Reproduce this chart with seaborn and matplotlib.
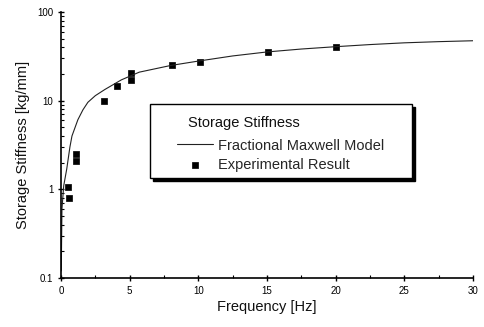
import matplotlib
matplotlib.use("Agg")
import matplotlib.pyplot as plt
import seaborn as sns
import pandas as pd
from matplotlib.patches import Rectangle
from matplotlib.ticker import FixedLocator, FixedFormatter, LogLocator, MultipleLocator, NullFormatter

# Model curve
model_freq = [0.02, 0.07, 0.2, 0.42, 0.65, 0.8, 1.23, 1.6, 1.96, 2.5, 3.2, 4.4, 5.7, 8, 10, 12.5, 15, 17.5, 20, 22.5, 25, 27.5, 30]
model_stiff = [0.12, 0.6, 1.1, 1.7, 3.0, 4.0, 6.1, 7.9, 9.6, 11.4, 13.4, 17.2, 21.0, 25.0, 28.0, 32.0, 35.5, 38.3, 40.7, 43.0, 45.0, 46.4, 47.5]

# Experimental results
exp_freq = [0.5, 0.6, 1.1, 1.1, 3.1, 4.1, 5.1, 5.1, 8.1, 10.1, 15.1, 20.0]
exp_stiff = [1.05, 0.8, 2.5, 2.1, 10.0, 14.8, 20.5, 17.2, 25.0, 27.5, 35.5, 40.8]

y_ticks = [0.1, 1, 10, 100]
y_ticklabels = ["0.1", "1", "10", "100"]
x_ticks = [0, 5, 10, 15, 20, 25, 30]
legend_title = "Storage Stiffness"

sns.set_theme(style="ticks")
plt.rcParams["font.family"] = ["Liberation Sans", "DejaVu Sans"]

fig = plt.figure(figsize=(4.84, 3.27), dpi=100)
ax = fig.add_axes([0.126, 0.15, 0.851, 0.813])

model_df = pd.DataFrame({"f": model_freq, "s": model_stiff})
exp_df = pd.DataFrame({"f": exp_freq, "s": exp_stiff})

sns.lineplot(data=model_df, x="f", y="s", ax=ax, color="#222222", linewidth=0.8,
             label="Fractional Maxwell Model")
sns.scatterplot(data=exp_df, x="f", y="s", ax=ax, color="black", marker="s", s=22,
                edgecolor="black", linewidth=0.5, label="Experimental Result")

ax.set_yscale("log")
ax.set_xlim(0, 30)
ax.set_ylim(0.1, 100)
ax.yaxis.set_major_locator(FixedLocator(y_ticks))
ax.yaxis.set_major_formatter(FixedFormatter(y_ticklabels))
ax.yaxis.set_minor_locator(LogLocator(base=10, subs=range(2, 10)))
ax.yaxis.set_minor_formatter(NullFormatter())
ax.xaxis.set_major_locator(FixedLocator(x_ticks))
ax.xaxis.set_minor_locator(MultipleLocator(2.5))

for s in ["top", "right"]:
    ax.spines[s].set_visible(False)
for s in ["left", "bottom"]:
    ax.spines[s].set_linewidth(1.2)
    ax.spines[s].set_color("black")

ax.tick_params(axis="both", which="major", direction="inout", length=5, width=1,
               labelsize=7, colors="black", pad=3)
ax.tick_params(axis="both", which="minor", direction="in", length=2.5, width=0.8, colors="black")

ax.set_xlabel("Frequency [Hz]", fontsize=10.5, color="#111111", labelpad=3)
ax.set_ylabel("Storage Stiffness [kg/mm]", fontsize=10.5, color="#111111", labelpad=5)

# Legend frame with drop shadow
bx0, by0, bw, bh = 0.216, 0.376, 0.636, 0.278
ax.add_patch(Rectangle((bx0 + 0.008, by0 - 0.012), bw, bh, transform=ax.transAxes,
                       facecolor="black", edgecolor="black", zorder=5, clip_on=False))
ax.add_patch(Rectangle((bx0, by0), bw, bh, transform=ax.transAxes,
                       facecolor="white", edgecolor="black", linewidth=1.0, zorder=6, clip_on=False))
ax.text(0.308, 0.583, legend_title, transform=ax.transAxes, fontsize=10.5,
        color="#111111", ha="left", va="center", zorder=7)

leg = ax.legend(loc="center left", bbox_to_anchor=(0.282, 0.462),
                frameon=False, fontsize=10.5, handlelength=2.47, handletextpad=0.3,
                borderpad=0, borderaxespad=0, labelspacing=0.35)
leg.set_zorder(8)

fig.savefig("out.png", dpi=100)
